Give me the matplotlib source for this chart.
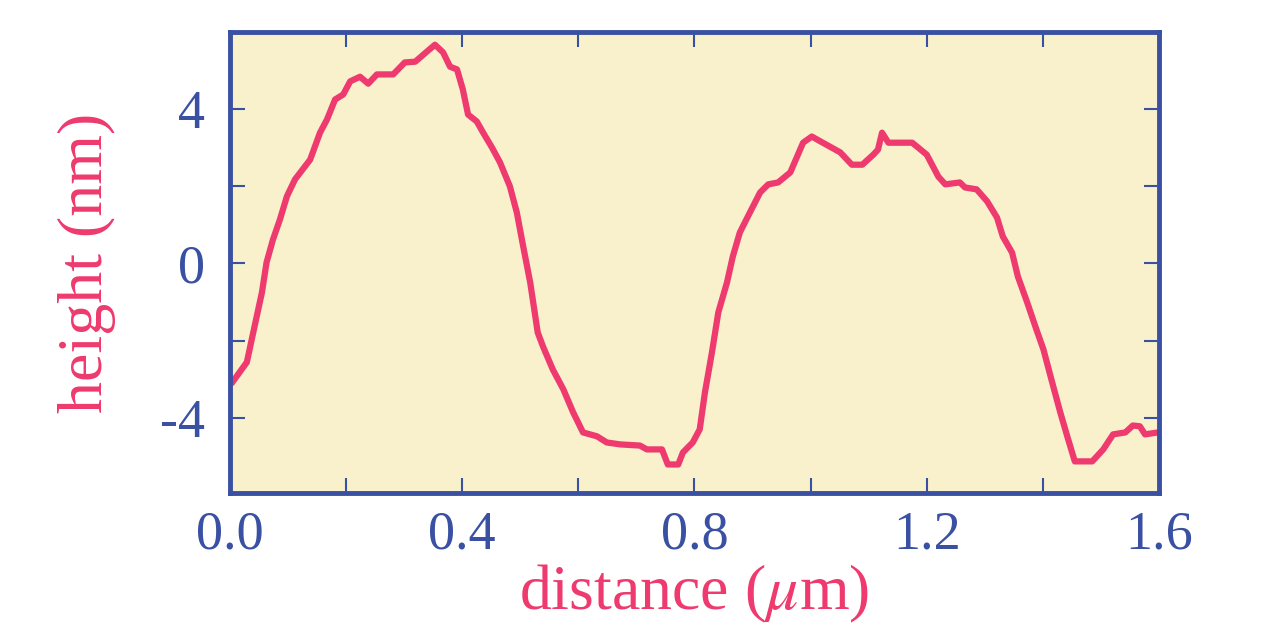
import matplotlib
matplotlib.use("Agg")
import matplotlib.pyplot as plt

# profile (distance in um, height in nm)
distance = [0.005, 0.029, 0.040, 0.055, 0.063, 0.074, 0.086, 0.098, 0.112, 0.138,
            0.155, 0.167, 0.181, 0.195, 0.207, 0.224, 0.238, 0.253, 0.281, 0.301,
            0.319, 0.339, 0.353, 0.367, 0.379, 0.391, 0.401, 0.410, 0.425, 0.436,
            0.451, 0.465, 0.482, 0.494, 0.505, 0.517, 0.530, 0.539, 0.556, 0.574,
            0.591, 0.608, 0.632, 0.649, 0.672, 0.706, 0.718, 0.744, 0.754, 0.772,
            0.780, 0.797, 0.809, 0.818, 0.830, 0.841, 0.856, 0.866, 0.878, 0.892,
            0.913, 0.927, 0.944, 0.965, 0.987, 1.002, 1.021, 1.051, 1.071, 1.089,
            1.108, 1.116, 1.123, 1.134, 1.175, 1.200, 1.220, 1.232, 1.257, 1.266,
            1.286, 1.304, 1.321, 1.331, 1.347, 1.357, 1.373, 1.387, 1.401, 1.416,
            1.430, 1.442, 1.455, 1.485, 1.504, 1.521, 1.542, 1.555, 1.567, 1.576,
            1.598]
height = [-3.06, -2.56, -1.79, -0.75, 0.03, 0.62, 1.14, 1.74, 2.18, 2.69,
          3.39, 3.73, 4.25, 4.38, 4.72, 4.84, 4.66, 4.90, 4.90, 5.21,
          5.23, 5.49, 5.67, 5.47, 5.10, 5.03, 4.51, 3.86, 3.68, 3.39,
          3.01, 2.62, 2.00, 1.32, 0.44, -0.49, -1.79, -2.15, -2.75, -3.26,
          -3.86, -4.38, -4.48, -4.64, -4.69, -4.72, -4.82, -4.82, -5.21, -5.21,
          -4.90, -4.64, -4.30, -3.34, -2.31, -1.27, -0.49, 0.18, 0.80, 1.22,
          1.84, 2.05, 2.10, 2.36, 3.13, 3.29, 3.13, 2.88, 2.56, 2.56,
          2.82, 2.95, 3.39, 3.13, 3.13, 2.82, 2.25, 2.05, 2.10, 1.97,
          1.92, 1.61, 1.19, 0.70, 0.28, -0.34, -1.01, -1.63, -2.23, -3.08,
          -3.86, -4.48, -5.13, -5.13, -4.82, -4.43, -4.38, -4.20, -4.22, -4.43,
          -4.38]

x_ticks = [0.0, 0.2, 0.4, 0.6, 0.8, 1.0, 1.2, 1.4, 1.6]
x_labels = ["0.0", "", "0.4", "", "0.8", "", "1.2", "", "1.6"]
y_ticks = [-4, -2, 0, 2, 4]
y_labels = ["-4", "", "0", "", "4"]

blue = "#3a50a3"
pink = "#ee3a6e"

plt.rcParams["font.family"] = "Liberation Serif"
plt.rcParams["mathtext.fontset"] = "stix"

fig = plt.figure(figsize=(12.61, 6.27), dpi=100)
ax = fig.add_axes([0.1824, 0.2137, 0.7367, 0.7353])
ax.set_facecolor("#f8f1cc")

ax.plot(distance, height, color=pink, linewidth=4.5, solid_joinstyle="round")

ax.set_xlim(0, 1.6)
ax.set_ylim(-5.95, 6.0)
ax.set_xticks(x_ticks)
ax.set_xticklabels(x_labels)
ax.set_yticks(y_ticks)
ax.set_yticklabels(y_labels)

for s in ax.spines.values():
    s.set_color(blue)
    s.set_linewidth(3.5)

ax.tick_params(axis="both", direction="in", length=11, width=1.5, color=blue,
               labelcolor=blue, labelsize=39, top=True, right=True)
ax.tick_params(axis="x", pad=12)
ax.tick_params(axis="y", pad=18)

ax.set_xlabel(r"distance ($\mu$m)", color=pink, fontsize=46, labelpad=2)
ax.set_ylabel("height (nm)", color=pink, fontsize=46, labelpad=32)

fig.savefig("out.png", dpi=100, facecolor="white")
